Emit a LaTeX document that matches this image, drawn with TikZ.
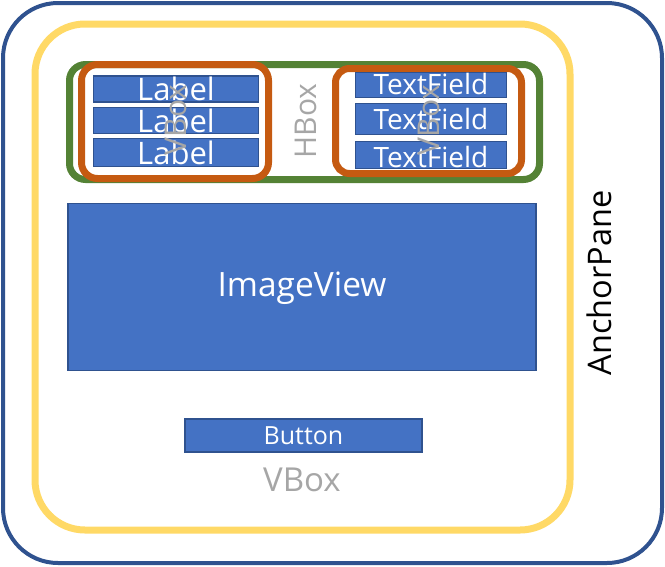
\documentclass[tikz,border=0pt]{standalone}
\usepackage{fontspec}
\setmainfont{Open Sans}
\definecolor{dblue}{HTML}{2F528F}
\definecolor{mblue}{HTML}{4472C4}
\definecolor{ygold}{HTML}{FFD966}
\definecolor{dgreen}{HTML}{548235}
\definecolor{orng}{HTML}{C55A11}
\definecolor{lgray}{HTML}{A6A6A6}
\tikzset{
  box/.style={draw=dblue, fill=mblue, line width=1.5pt, inner sep=0pt},
  wtext/.style={text=white, inner sep=0pt},
  gtext/.style={text=lgray, inner sep=0pt},
}
\newcommand{\fs}[1]{\fontsize{#1}{#1}\selectfont}
\begin{document}
\begin{tikzpicture}[x=1pt,y=-1pt]
\useasboundingbox (0,0) rectangle (665,566);
% AnchorPane
\draw[draw=dblue, line width=4pt, rounded corners=55pt] (3,3) rectangle (662,563);
\node[rotate=90, inner sep=0pt] (ap) at (599,283) {\fs{32.5}AnchorPane};
% VBox (yellow)
\draw[draw=ygold, line width=7pt, rounded corners=50pt] (35,24) rectangle (570,530);
% HBox (green)
\draw[draw=dgreen, line width=7pt, rounded corners=16pt] (69.5,64.5) rectangle (539.5,179.5);
% left VBox (orange)
\draw[draw=orng, line width=7pt, rounded corners=16pt] (81.5,64.5) rectangle (268.5,178.5);
% right VBox (orange)
\draw[draw=orng, line width=7pt, rounded corners=14pt] (335.5,68.5) rectangle (521.5,173.5);
% Labels
\node[box, minimum width=165pt, minimum height=26pt] (l1) at (176,89) {};
\node[box, minimum width=165pt, minimum height=26pt] (l2) at (176,120.5) {};
\node[box, minimum width=165pt, minimum height=28pt] (l3) at (176,152.5) {};
\node[wtext] (l1t) at (176,89) {\fs{31}Label};
\node[wtext] (l2t) at (176,120.5) {\fs{31}Label};
\node[wtext] (l3t) at (176,152.5) {\fs{31}Label};
% TextFields
\node[box, minimum width=151pt, minimum height=25pt] (t1) at (431,85) {};
\node[box, minimum width=151pt, minimum height=31pt] (t2) at (431,119) {};
\node[box, minimum width=151pt, minimum height=27pt] (t3) at (431,155) {};
\node[wtext] (t1t) at (431,84) {\fs{28}TextField};
\node[wtext] (t2t) at (431,119) {\fs{28}TextField};
\node[wtext] (t3t) at (431,157) {\fs{28}TextField};
% gray labels
\node[gtext, rotate=90] (hb) at (306,121) {\fs{30}HBox};
\node[gtext, rotate=90] (vb1) at (176,120) {\fs{30}VBox};
\node[gtext, rotate=90] (vb2) at (429,120) {\fs{30}VBox};
% ImageView
\node[box, minimum width=468pt, minimum height=167pt] (iv) at (302,287) {};
\node[wtext] (ivt) at (302,288) {\fs{33.5}ImageView};
% Button
\node[box, minimum width=237pt, minimum height=33pt] (bt) at (303.5,435.5) {};
\node[wtext] (btt) at (303.5,436) {\fs{25}Button};
\node[gtext] (vb3) at (302,480) {\fs{33}VBox};
\end{tikzpicture}
\end{document}
